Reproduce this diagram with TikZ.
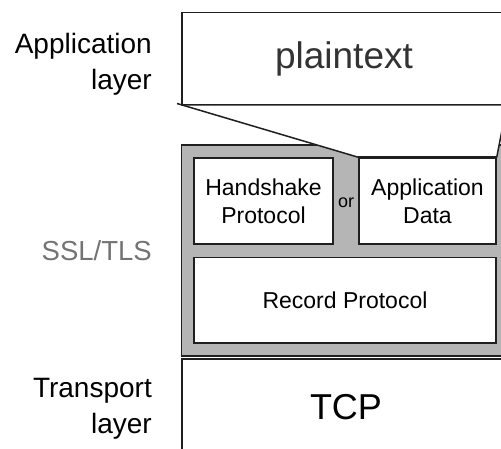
\documentclass[tikz,border=0pt]{standalone}
\usepackage{fontspec}
\setmainfont{Liberation Sans}
\begin{document}
\begin{tikzpicture}[x=1pt,y=-1pt,
  edge/.style={draw=black!88, line width=1.5pt},
  box/.style={edge, fill=white, inner sep=0pt, align=center},
  inner/.style={box, font=\fontsize{23}{28}\selectfont},
  lbl/.style={inner sep=0pt, anchor=base east, font=\fontsize{28}{36}\selectfont},
]
\useasboundingbox (0,0) rectangle (501,449);
\clip (0,0) rectangle (501,449);
% SSL/TLS grey frame
\node[edge, fill=black!29, inner sep=0pt, minimum width=328pt, minimum height=211pt] (ssl) at (345.5,250.5) {};
% inner boxes
\node[inner, minimum width=139pt, minimum height=86pt] (hs) at (263.5,201) {Handshake\\Protocol};
\node[inner, minimum width=137pt, minimum height=86pt] (app) at (427.5,201) {Application\\Data};
\node[inner, minimum width=302pt, minimum height=85.5pt] (rec) at (345,300.25) {Record Protocol};
\node[inner sep=0pt, font=\fontsize{18}{20}\selectfont] (or) at (346,203) {or};
% plaintext box
\node[box, minimum width=324pt, minimum height=92.3pt, text=black!80, font=\fontsize{37}{40}\selectfont] (pt) at (344,58.85) {plaintext};
% funnel
\coordinate (tail) at (177,103.5);
\fill[white] (pt.south west) -- (app.north west) -- (app.north east) -- (pt.south east) -- cycle;
\draw[edge] (tail) -- (app.north west);
\draw[edge] (pt.south east) -- (app.north east);
\draw[edge] (app.north west) -- (app.north east);
% TCP box
\node[box, minimum width=328pt, minimum height=96pt, font=\fontsize{36}{40}\selectfont] (tcp) at (346,407) {TCP};
% layer labels
\node[lbl] (al1) at (152,54) {Application};
\node[lbl] (al2) at (152,90) {layer};
\node[lbl, text=black!55, font=\fontsize{27.5}{36}\selectfont] (sl) at (152,261) {SSL/TLS};
\node[lbl] (tl1) at (152,397) {Transport};
\node[lbl] (tl2) at (152,433) {layer};
\end{tikzpicture}
\end{document}
